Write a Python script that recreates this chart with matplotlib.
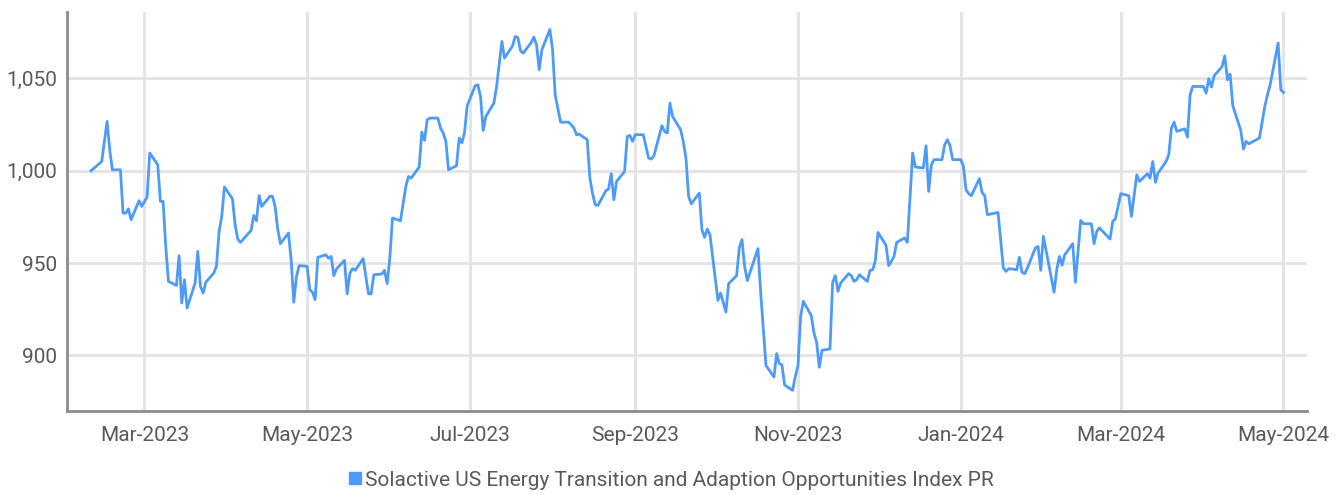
import pandas as pd
import matplotlib
matplotlib.use("Agg")
import matplotlib.pyplot as plt
import matplotlib.dates as mdates
from matplotlib.ticker import FuncFormatter
from matplotlib.lines import Line2D

plt.rcParams['font.family'] = ['Liberation Sans Narrow', 'Roboto', 'DejaVu Sans']

series_name = "Solactive US Energy Transition and Adaption Opportunities Index PR"

dates = [
    "2023-02-09", "2023-02-13", "2023-02-15", "2023-02-16", "2023-02-17", "2023-02-20",
    "2023-02-21", "2023-02-22", "2023-02-23", "2023-02-24", "2023-02-27", "2023-02-28",
    "2023-03-02", "2023-03-03", "2023-03-06", "2023-03-07", "2023-03-08", "2023-03-09",
    "2023-03-10", "2023-03-13", "2023-03-14", "2023-03-15", "2023-03-16", "2023-03-17",
    "2023-03-20", "2023-03-21", "2023-03-22", "2023-03-23", "2023-03-24", "2023-03-27",
    "2023-03-28", "2023-03-29", "2023-03-30", "2023-03-31", "2023-04-03", "2023-04-04",
    "2023-04-05", "2023-04-06", "2023-04-10", "2023-04-11", "2023-04-12", "2023-04-13",
    "2023-04-14", "2023-04-17", "2023-04-18", "2023-04-19", "2023-04-20", "2023-04-21",
    "2023-04-24", "2023-04-25", "2023-04-26", "2023-04-27", "2023-04-28", "2023-05-01",
    "2023-05-02", "2023-05-03", "2023-05-04", "2023-05-05", "2023-05-08", "2023-05-09",
    "2023-05-10", "2023-05-11", "2023-05-12", "2023-05-15", "2023-05-16", "2023-05-17",
    "2023-05-18", "2023-05-19", "2023-05-22", "2023-05-23", "2023-05-24", "2023-05-25",
    "2023-05-26", "2023-05-29", "2023-05-30", "2023-05-31", "2023-06-01", "2023-06-02",
    "2023-06-05", "2023-06-07", "2023-06-08", "2023-06-09", "2023-06-12", "2023-06-13",
    "2023-06-14", "2023-06-15", "2023-06-16", "2023-06-19", "2023-06-20", "2023-06-21",
    "2023-06-22", "2023-06-23", "2023-06-26", "2023-06-27", "2023-06-28", "2023-06-29",
    "2023-06-30", "2023-07-03", "2023-07-04", "2023-07-05", "2023-07-06", "2023-07-07",
    "2023-07-10", "2023-07-11", "2023-07-12", "2023-07-13", "2023-07-14", "2023-07-17",
    "2023-07-18", "2023-07-19", "2023-07-20", "2023-07-21", "2023-07-24", "2023-07-25",
    "2023-07-26", "2023-07-27", "2023-07-28", "2023-07-31", "2023-08-01", "2023-08-02",
    "2023-08-04", "2023-08-07", "2023-08-08", "2023-08-09", "2023-08-10", "2023-08-11",
    "2023-08-14", "2023-08-15", "2023-08-16", "2023-08-17", "2023-08-18", "2023-08-21",
    "2023-08-22", "2023-08-23", "2023-08-24", "2023-08-25", "2023-08-28", "2023-08-29",
    "2023-08-30", "2023-08-31", "2023-09-01", "2023-09-04", "2023-09-06", "2023-09-07",
    "2023-09-08", "2023-09-11", "2023-09-12", "2023-09-13", "2023-09-14", "2023-09-15",
    "2023-09-18", "2023-09-19", "2023-09-20", "2023-09-21", "2023-09-22", "2023-09-25",
    "2023-09-26", "2023-09-27", "2023-09-28", "2023-09-29", "2023-10-02", "2023-10-03",
    "2023-10-05", "2023-10-06", "2023-10-09", "2023-10-10", "2023-10-11", "2023-10-12",
    "2023-10-13", "2023-10-17", "2023-10-18", "2023-10-20", "2023-10-23", "2023-10-24",
    "2023-10-25", "2023-10-26", "2023-10-27", "2023-10-30", "2023-10-31", "2023-11-01",
    "2023-11-02", "2023-11-03", "2023-11-06", "2023-11-07", "2023-11-08", "2023-11-09",
    "2023-11-10", "2023-11-13", "2023-11-14", "2023-11-15", "2023-11-16", "2023-11-17",
    "2023-11-20", "2023-11-21", "2023-11-22", "2023-11-23", "2023-11-24", "2023-11-27",
    "2023-11-28", "2023-11-29", "2023-11-30", "2023-12-01", "2023-12-04", "2023-12-05",
    "2023-12-06", "2023-12-07", "2023-12-08", "2023-12-11", "2023-12-12", "2023-12-14",
    "2023-12-15", "2023-12-18", "2023-12-19", "2023-12-20", "2023-12-21", "2023-12-22",
    "2023-12-25", "2023-12-26", "2023-12-27", "2023-12-28", "2023-12-29", "2024-01-01",
    "2024-01-02", "2024-01-03", "2024-01-04", "2024-01-05", "2024-01-08", "2024-01-09",
    "2024-01-10", "2024-01-11", "2024-01-15", "2024-01-17", "2024-01-18", "2024-01-19",
    "2024-01-22", "2024-01-23", "2024-01-24", "2024-01-25", "2024-01-26", "2024-01-29",
    "2024-01-30", "2024-01-31", "2024-02-01", "2024-02-05", "2024-02-06", "2024-02-07",
    "2024-02-08", "2024-02-09", "2024-02-12", "2024-02-13", "2024-02-15", "2024-02-16",
    "2024-02-19", "2024-02-20", "2024-02-21", "2024-02-22", "2024-02-26", "2024-02-27",
    "2024-02-28", "2024-03-01", "2024-03-04", "2024-03-05", "2024-03-07", "2024-03-08",
    "2024-03-11", "2024-03-12", "2024-03-13", "2024-03-14", "2024-03-15", "2024-03-18",
    "2024-03-19", "2024-03-20", "2024-03-21", "2024-03-22", "2024-03-25", "2024-03-26",
    "2024-03-27", "2024-03-28", "2024-04-01", "2024-04-02", "2024-04-03", "2024-04-04",
    "2024-04-05", "2024-04-08", "2024-04-09", "2024-04-10", "2024-04-11", "2024-04-12",
    "2024-04-15", "2024-04-16", "2024-04-17", "2024-04-18", "2024-04-22", "2024-04-24",
    "2024-04-25", "2024-04-26", "2024-04-29", "2024-04-30", "2024-05-01",
]

values = [
    1000.0, 1005.0, 1026.7, 1011.4, 1000.5, 1000.5,
    977.1, 977.0, 979.4, 973.5, 983.8, 980.7,
    985.8, 1009.6, 1003.2, 983.4, 983.4, 959.0,
    940.1, 937.9, 954.0, 928.4, 941.0, 925.7,
    939.2, 956.3, 937.4, 933.8, 939.6, 944.6,
    948.2, 967.2, 975.3, 991.2, 984.8, 970.8,
    963.0, 961.2, 967.7, 975.8, 972.9, 986.6,
    980.7, 986.1, 986.1, 980.7, 968.1, 960.5,
    966.3, 951.8, 928.8, 942.8, 948.6, 948.2,
    935.6, 934.2, 930.2, 953.1, 954.5, 952.6,
    953.6, 943.2, 946.8, 951.5, 933.4, 944.3,
    947.0, 946.1, 952.4, 942.8, 933.4, 933.3,
    943.7, 944.1, 946.1, 938.9, 952.8, 974.4,
    972.9, 991.5, 996.9, 996.0, 1002.0, 1020.9,
    1016.4, 1027.6, 1028.5, 1028.5, 1023.1, 1020.4,
    1015.9, 1000.5, 1002.7, 1017.7, 1015.0, 1020.7,
    1035.2, 1046.0, 1046.5, 1040.2, 1021.8, 1029.4,
    1036.6, 1045.3, 1057.5, 1070.0, 1061.0, 1067.6,
    1072.7, 1072.1, 1064.9, 1063.7, 1069.4, 1072.3,
    1068.2, 1054.7, 1065.5, 1076.5, 1065.7, 1041.1,
    1026.3, 1026.3, 1024.9, 1023.1, 1019.5, 1019.8,
    1016.8, 996.0, 987.6, 981.6, 981.2, 989.2,
    990.1, 998.4, 984.3, 994.2, 999.6, 1018.6,
    1019.1, 1015.9, 1019.5, 1019.5, 1006.9, 1006.3,
    1008.1, 1024.4, 1021.3, 1020.4, 1036.6, 1029.4,
    1022.2, 1015.9, 1006.9, 986.1, 982.1, 987.9,
    968.1, 963.9, 968.4, 965.4, 929.8, 933.8,
    923.5, 938.9, 943.2, 958.2, 962.7, 948.2,
    940.5, 957.8, 934.7, 894.6, 888.3, 901.0,
    895.6, 894.8, 884.0, 881.1, 888.7, 894.5,
    921.2, 929.3, 921.5, 912.2, 907.1, 893.6,
    902.8, 903.5, 939.6, 943.2, 934.7, 939.2,
    944.3, 943.2, 940.1, 941.0, 943.7, 940.1,
    946.1, 946.4, 951.3, 966.6, 959.6, 948.6,
    950.9, 953.6, 961.2, 963.6, 961.2, 1009.6,
    1002.0, 1001.5, 1013.5, 988.8, 1003.2, 1006.0,
    1006.0, 1014.1, 1016.8, 1013.5, 1006.0, 1006.0,
    1002.7, 989.7, 987.6, 986.5, 995.7, 988.3,
    986.5, 976.2, 977.4, 947.3, 945.5, 947.0,
    946.4, 953.1, 945.0, 944.3, 947.3, 958.2,
    959.0, 946.1, 964.5, 934.2, 946.4, 953.6,
    948.8, 954.5, 960.5, 939.6, 973.1, 971.3,
    971.3, 960.5, 967.2, 969.0, 963.0, 972.6,
    973.9, 987.6, 986.5, 975.3, 997.8, 994.2,
    998.4, 996.0, 1005.0, 993.7, 998.8, 1005.0,
    1008.7, 1023.1, 1026.3, 1021.3, 1022.7, 1018.2,
    1041.1, 1045.6, 1045.6, 1042.0, 1049.8, 1045.3,
    1051.4, 1056.4, 1062.2, 1049.2, 1052.3, 1035.2,
    1021.8, 1011.7, 1015.9, 1014.6, 1017.7, 1034.8,
    1041.1, 1046.5, 1069.1, 1043.8, 1042.4,
]

line_color = "#4D9BF7"
text_color = "#595959"

x = pd.to_datetime(dates)

fig = plt.figure(figsize=(13.41, 4.95), dpi=100)
ax = fig.add_axes([0.050, 0.170, 0.925, 0.806])

ax.plot(x, values, color=line_color, linewidth=2.0, zorder=3)

ax.set_xlim(pd.Timestamp("2023-01-31"), pd.Timestamp("2024-05-10"))
ax.set_ylim(870, 1086)
ax.set_yticks([900, 950, 1000, 1050])
ax.yaxis.set_major_formatter(FuncFormatter(lambda v, p: f"{v:,.0f}"))
ax.xaxis.set_major_locator(mdates.MonthLocator(bymonth=[1, 3, 5, 7, 9, 11]))
ax.xaxis.set_major_formatter(mdates.DateFormatter("%b-%Y"))

ax.grid(True, color="#e3e3e3", linewidth=2.0, zorder=0)
ax.set_axisbelow(True)
for s in ["top", "right"]:
    ax.spines[s].set_visible(False)
ax.spines["left"].set_color("#8c8c8c")
ax.spines["bottom"].set_color("#8c8c8c")
ax.spines["left"].set_linewidth(2.0)
ax.spines["bottom"].set_linewidth(2.0)

ax.tick_params(axis="x", length=0, pad=11, labelsize=15, labelcolor=text_color)
ax.tick_params(axis="y", length=0, pad=7, labelsize=15, labelcolor=text_color)

handle = Line2D([], [], marker="s", linestyle="none", color=line_color, markersize=8)
fig.legend([handle], [series_name], loc="center", bbox_to_anchor=(0.5, 0.03),
           frameon=False, fontsize=15, labelcolor=text_color,
           handletextpad=0.1, handlelength=0.8)

fig.savefig("out.png", dpi=100)
